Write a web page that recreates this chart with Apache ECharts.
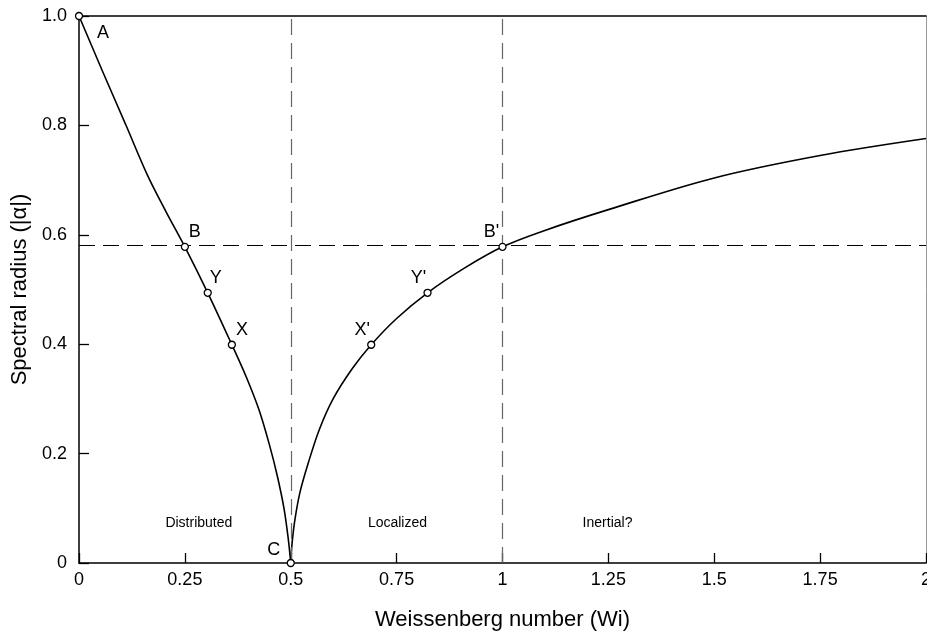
<!DOCTYPE html>
<html>
<head>
<meta charset="utf-8">
<script src="https://cdn.jsdelivr.net/npm/echarts@6/dist/echarts.min.js"></script>
<style>
  html, body { margin: 0; padding: 0; background: #fff; }
  #chart { width: 927px; height: 638px; }
</style>
</head>
<body>
<div id="chart"></div>
<script>
// left branch A -> C
var leftWi = [0, 0.055, 0.11, 0.161, 0.205, 0.25, 0.304, 0.361, 0.395, 0.425, 0.45, 0.468, 0.484, 0.494, 0.5];
var leftRho = [1, 0.9, 0.802, 0.71, 0.643, 0.578, 0.494, 0.399, 0.34, 0.28, 0.215, 0.16, 0.1, 0.045, 0];
// right branch C -> B' -> Wi=2
var rightWi = [0.5, 0.503, 0.51, 0.522, 0.541, 0.568, 0.6, 0.645, 0.69, 0.75, 0.823, 0.91, 1.0, 1.1, 1.25, 1.5, 1.75, 2.0];
var rightRho = [0, 0.035, 0.08, 0.13, 0.182, 0.245, 0.3, 0.355, 0.399, 0.447, 0.494, 0.539, 0.578, 0.608, 0.646, 0.704, 0.745, 0.776];

// marked points
var ptNames = ['A', 'B', 'Y', 'X', 'C', "X'", "Y'", "B'"];
var ptWi = [0, 0.25, 0.304, 0.361, 0.5, 0.69, 0.823, 1.0];
var ptRho = [1, 0.578, 0.494, 0.399, 0, 0.399, 0.494, 0.578];
var ptOffsets = [[24, 17], [10, -15], [8, -15], [10, -15], [-17, -13], [-9, -15], [-9, -15], [-11, -15]];

// regime labels
var regionNames = ['Distributed', 'Localized', 'Inertial?'];
var regionWi = [0.283, 0.752, 1.248];
var regionRho = 0.073;

var dashRho = 0.578;
var dashWi = [0.5, 1.0];

var font = 'Liberation Sans, Arial, Helvetica, sans-serif';

var chart = echarts.init(document.getElementById('chart'));

var leftData = leftWi.map(function (w, i) { return [w, leftRho[i]]; });
var rightData = rightWi.map(function (w, i) { return [w, rightRho[i]]; });
var ptData = ptWi.map(function (w, i) {
  return {
    value: [w, ptRho[i]],
    name: ptNames[i],
    label: { offset: ptOffsets[i] }
  };
});
var regionData = regionWi.map(function (w, i) {
  return { value: [w, regionRho], name: regionNames[i] };
});

var option = {
  animation: false,
  backgroundColor: '#fff',
  grid: { left: 79, right: 1, top: 16, bottom: 75, outerBoundsMode: 'none', containLabel: false },
  xAxis: [{
    type: 'value',
    min: 0, max: 2, interval: 0.25,
    name: 'Weissenberg number (Wi)',
    nameLocation: 'middle',
    nameGap: 46,
    nameTextStyle: { fontFamily: font, fontSize: 22, color: '#000' },
    axisLine: { onZero: false, lineStyle: { color: '#000', width: 1.5 } },
    axisTick: { inside: true, length: 10, lineStyle: { color: '#000', width: 1.3 } },
    axisLabel: { fontFamily: font, fontSize: 18, color: '#000', margin: 8 },
    splitLine: { show: false }
  }, {
    type: 'value',
    position: 'top',
    min: 0, max: 2,
    axisLine: { show: true, onZero: false, lineStyle: { color: '#000', width: 1.5 } },
    axisTick: { show: false },
    axisLabel: { show: false },
    splitLine: { show: false }
  }],
  yAxis: [{
    type: 'value',
    min: 0, max: 1, interval: 0.2,
    name: 'Spectral radius (|α|)',
    nameLocation: 'middle',
    nameGap: 47,
    nameTextStyle: { fontFamily: font, fontSize: 22, color: '#000' },
    axisLine: { show: true, onZero: false, lineStyle: { color: '#000', width: 1.5 } },
    axisTick: { inside: true, length: 10, lineStyle: { color: '#000', width: 1.3 } },
    axisLabel: {
      fontFamily: font, fontSize: 18, color: '#000', margin: 12,
      formatter: function (v) { return v === 0 ? '0' : v.toFixed(1); }
    },
    splitLine: { show: false }
  }, {
    type: 'value',
    position: 'right',
    min: 0, max: 1,
    axisLine: { show: true, onZero: false, lineStyle: { color: '#999', width: 1 } },
    axisTick: { show: false },
    axisLabel: { show: false },
    splitLine: { show: false }
  }],
  series: [{
    type: 'line',
    data: leftData,
    smooth: 0.35,
    symbol: 'none',
    lineStyle: { color: '#000', width: 1.6 },
    markLine: {
      silent: true,
      symbol: 'none',
      label: { show: false },
      data: [
        { xAxis: dashWi[0], lineStyle: { color: '#666', width: 1.2, type: [16, 8] } },
        { xAxis: dashWi[1], lineStyle: { color: '#666', width: 1.2, type: [16, 8] } },
        { yAxis: dashRho, lineStyle: { color: '#000', width: 1, type: [16, 8] } }
      ]
    },
    z: 3
  }, {
    type: 'line',
    data: rightData,
    smooth: 0.35,
    symbol: 'none',
    lineStyle: { color: '#000', width: 1.6 },
    z: 3
  }, {
    type: 'scatter',
    data: ptData,
    symbol: 'circle',
    symbolSize: 7,
    itemStyle: { color: '#fff', borderColor: '#000', borderWidth: 1.3, opacity: 1 },
    label: {
      show: true,
      position: 'inside',
      formatter: '{b}',
      fontFamily: font, fontSize: 18, color: '#000'
    },
    z: 5
  }, {
    type: 'scatter',
    data: regionData,
    symbolSize: 0,
    itemStyle: { opacity: 1 },
    label: {
      show: true,
      position: 'inside',
      formatter: '{b}',
      fontFamily: font, fontSize: 14, color: '#000'
    },
    z: 4
  }]
};

chart.setOption(option);
</script>
</body>
</html>
